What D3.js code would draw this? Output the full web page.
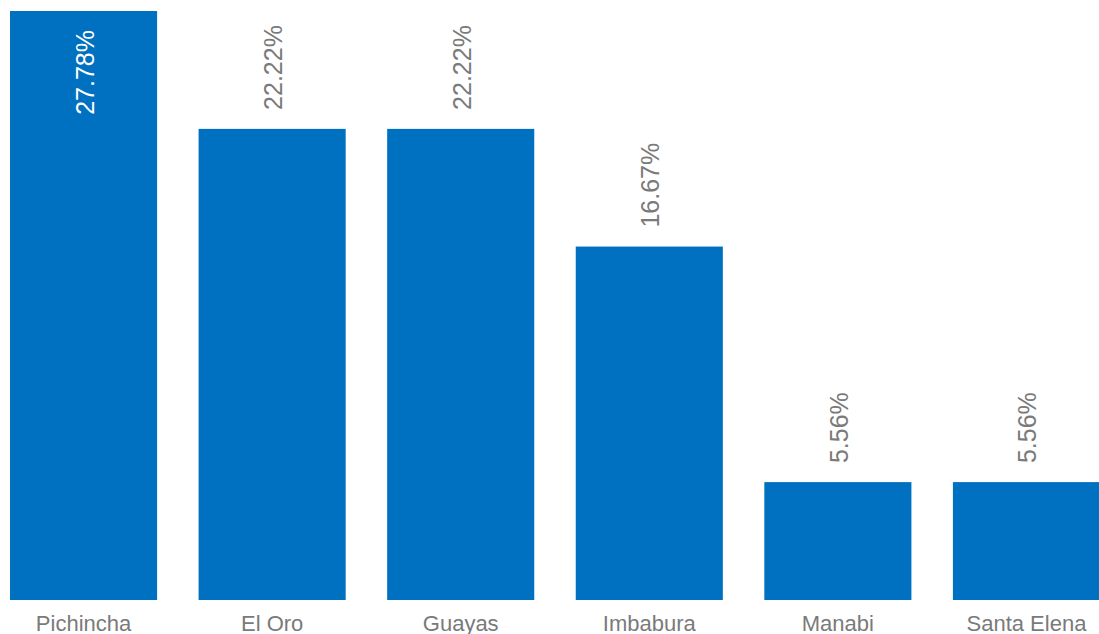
<!DOCTYPE html>
<html>
<head>
<meta charset="utf-8">
<script src="https://cdn.jsdelivr.net/npm/d3@7"></script>
<style>
  body { margin: 0; background: #fff; }
  svg { display: block; font-family: "Liberation Sans", Arial, sans-serif; }
</style>
</head>
<body>
<svg id="chart"></svg>
<script>
const provinces = ["Pichincha", "El Oro", "Guayas", "Imbabura", "Manabi", "Santa Elena"];
const shares = [27.78, 22.22, 22.22, 16.67, 5.56, 5.56];

const width = 1099, height = 634;
const barColor = "#0070C0", textColor = "#7a7a7a";

const svg = d3.select("#chart")
    .attr("width", width)
    .attr("height", height);

const x = d3.scaleBand()
    .domain(provinces)
    .range([10, 1100])
    .paddingInner(0.22)
    .paddingOuter(0);

const y = d3.scaleLinear()
    .domain([0, d3.max(shares)])
    .range([600, 11]);

const data = provinces.map((p, i) => ({ name: p, value: shares[i] }));

svg.selectAll("rect.bar")
    .data(data)
    .enter().append("rect")
    .attr("class", "bar")
    .attr("x", d => x(d.name))
    .attr("y", d => y(d.value))
    .attr("width", x.bandwidth())
    .attr("height", d => y(0) - y(d.value))
    .attr("fill", barColor);

// value labels, rotated; inside the bar when there is no room above
const labelSize = 25, labelLen = 85, gap = 19;
svg.selectAll("text.value")
    .data(data)
    .enter().append("text")
    .attr("class", "value")
    .each(function (d) {
        const top = y(d.value);
        const inside = top - gap - labelLen < 0;
        const cx = x(d.name) + x.bandwidth() / 2 + 10;
        const ypos = inside ? top + gap : top - gap;
        d3.select(this)
            .attr("transform", "translate(" + cx + "," + ypos + ") rotate(-90)")
            .attr("text-anchor", inside ? "end" : "start")
            .attr("fill", inside ? "#fff" : textColor);
    })
    .style("font-size", labelSize + "px")
    .text(d => d.value.toFixed(2) + "%");

// category axis
const xAxis = d3.axisBottom(x).tickSize(0).tickPadding(0);
const gx = svg.append("g")
    .attr("transform", "translate(0,600)")
    .call(xAxis);
gx.select(".domain").remove();
gx.selectAll("text")
    .attr("y", 31)
    .attr("dy", 0)
    .attr("fill", textColor)
    .style("font-size", "22px")
    .style("font-family", "'Liberation Sans', Arial, sans-serif");
</script>
</body>
</html>
